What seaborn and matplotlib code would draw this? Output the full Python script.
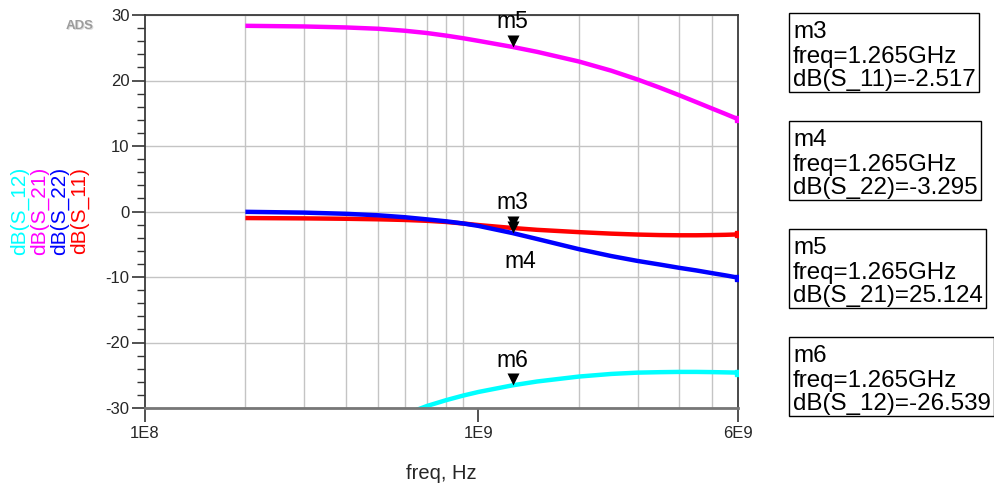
import matplotlib
matplotlib.use("Agg")
import matplotlib.pyplot as plt
import pandas as pd
import seaborn as sns
from matplotlib.patches import Rectangle
from matplotlib.ticker import FixedLocator, FixedFormatter, MultipleLocator, NullFormatter

# ---- S-parameter sweep data (frequency in Hz, magnitudes in dB) ----
freq_hz = [2e8, 3e8, 4e8, 5e8, 6e8, 7e8, 8e8, 9e8, 1e9, 1.265e9, 1.5e9,
           2e9, 2.5e9, 3e9, 3.5e9, 4e9, 4.5e9, 5e9, 5.5e9, 6e9]
s11_db = [-1.0, -1.05, -1.11, -1.19, -1.29, -1.42, -1.6, -1.83, -2.07, -2.517,
          -2.8, -3.15, -3.38, -3.52, -3.6, -3.63, -3.63, -3.6, -3.56, -3.5]
s22_db = [-0.05, -0.17, -0.35, -0.58, -0.87, -1.2, -1.5, -1.83, -2.2, -3.295,
          -4.2, -5.75, -6.8, -7.55, -8.1, -8.6, -9.0, -9.4, -9.75, -10.1]
s21_db = [28.35, 28.25, 28.1, 27.9, 27.6, 27.25, 26.85, 26.45, 26.05, 25.124,
          24.37, 22.9, 21.5, 20.15, 18.9, 17.75, 16.7, 15.75, 14.9, 14.1]
freq_s12_hz = [6e8, 7e8, 8e8, 9e8, 1e9, 1.265e9, 1.5e9, 2e9, 2.5e9, 3e9,
               3.5e9, 4e9, 4.5e9, 5e9, 5.5e9, 6e9]
s12_db = [-31.0, -29.7, -28.8, -28.1, -27.55, -26.539, -25.95, -25.2, -24.8,
          -24.6, -24.53, -24.49, -24.49, -24.52, -24.56, -24.6]

trace_names = ["dB(S_11)", "dB(S_22)", "dB(S_21)", "dB(S_12)"]
trace_colors = ["#ff0000", "#0000ff", "#ff00ff", "#00ffff"]

# markers: name, trace, frequency
marker_names = ["m3", "m4", "m5", "m6"]
marker_traces = ["dB(S_11)", "dB(S_22)", "dB(S_21)", "dB(S_12)"]
marker_freq_hz = 1.265e9

x_tick_values = [1e8, 1e9, 6e9]
x_tick_labels = ["1E8", "1E9", "6E9"]
x_grid_values = [2e8, 3e8, 4e8, 5e8, 6e8, 7e8, 8e8, 9e8, 1e9, 2e9, 3e9, 4e9, 5e9]
y_tick_values = [-30, -20, -10, 0, 10, 20, 30]

# ---- styling ----
sns.set_style("white")
plt.rcParams["font.family"] = ["Liberation Sans", "DejaVu Sans"]
plt.rcParams["axes.unicode_minus"] = False

W, H = 995, 483
fig = plt.figure(figsize=(W / 100, H / 100), dpi=100)


def fx(px):
    return px / W


def fy(py):
    return 1 - py / H


ax = fig.add_axes([fx(145), fy(408), fx(738 - 145), (408 - 15) / H])

series = {
    "dB(S_11)": (freq_hz, s11_db),
    "dB(S_22)": (freq_hz, s22_db),
    "dB(S_21)": (freq_hz, s21_db),
    "dB(S_12)": (freq_s12_hz, s12_db),
}
frames = [pd.DataFrame({"freq": f, "dB": v, "trace": name})
          for name, (f, v) in series.items()]
df = pd.concat(frames, ignore_index=True)
palette = dict(zip(trace_names, trace_colors))

ax.set_xscale("log")
sns.lineplot(data=df, x="freq", y="dB", hue="trace", hue_order=trace_names,
             palette=palette, linewidth=3.2, legend=False, ax=ax,
             solid_capstyle="butt", solid_joinstyle="round")

# small end squares at the last sweep point
for name in trace_names:
    f, v = series[name]
    ax.plot([f[-1]], [v[-1]], marker="s", ms=4.5, color=palette[name],
            ls="none", zorder=3)

ax.set_xlim(1e8, 6e9)
ax.set_ylim(-30, 30)

# ticks
ax.xaxis.set_major_locator(FixedLocator(x_tick_values))
ax.xaxis.set_major_formatter(FixedFormatter(x_tick_labels))
ax.xaxis.set_minor_locator(FixedLocator(x_grid_values))
ax.xaxis.set_minor_formatter(NullFormatter())
ax.yaxis.set_major_locator(FixedLocator(y_tick_values))
ax.yaxis.set_minor_locator(MultipleLocator(2))

tick_col = "#333333"
ax.tick_params(axis="x", which="major", direction="out", length=10, width=1.2,
               color=tick_col, pad=3.2, labelsize=12, bottom=True)
ax.tick_params(axis="x", which="minor", length=0)
ax.tick_params(axis="y", which="major", direction="out", length=9.5, width=1.2,
               color=tick_col, pad=1.6, labelsize=12, left=True)
ax.tick_params(axis="y", which="minor", direction="out", length=5.8, width=1.0,
               color=tick_col, left=True)

# grid
grid_col = "#c4c4c4"
ax.grid(True, axis="x", which="minor", color=grid_col, lw=1.0)
ax.grid(True, axis="y", which="major", color=grid_col, lw=1.0)
ax.grid(False, axis="x", which="major")

for side in ["left", "right", "top"]:
    ax.spines[side].set_color("#3a3a3a")
    ax.spines[side].set_linewidth(1.3)
ax.spines["bottom"].set_color("#777777")
ax.spines["bottom"].set_linewidth(2.0)

ax.set_ylabel("")
ax.set_xlabel("freq, Hz", fontsize=14.5)
ax.xaxis.set_label_coords(0.5, -0.143)

# stacked, colour-coded y-axis titles
for i, (name, col) in enumerate(zip(reversed(trace_names), reversed(trace_colors))):
    fig.text(fx(20 + 20 * i), fy(210.5), name, rotation=90, color=col,
             fontsize=15, ha="center", va="center")

# program badge
fig.text(fx(81), fy(27), "ADS", color="#dddddd", fontsize=9.5,
         fontweight="bold", ha="center", va="center")
fig.text(fx(80), fy(26), "ADS", color="#9c9c9c", fontsize=9.5,
         fontweight="bold", ha="center", va="center")

# ---- markers on the traces ----
tri = [(0, 0), (-1, 2), (1, 2), (0, 0)]
label_offsets = {"m3": (0, 25), "m4": (8, -28), "m5": (0, 25), "m6": (0, 25)}
marker_values = {}
for mname, tname in zip(marker_names, marker_traces):
    f, v = series[tname]
    val = v[f.index(marker_freq_hz)]
    marker_values[mname] = (tname, val)
    ax.plot([marker_freq_hz], [val], marker=tri, ms=17.3, mew=0,
            color="black", ls="none", zorder=6)
    dx, dy = label_offsets[mname]
    ax.annotate(mname, (marker_freq_hz, val), xytext=(dx, dy),
                textcoords="offset pixels", ha="center", va="center",
                fontsize=16.5, color="black", zorder=7)

# ---- marker readout boxes ----
box_tops = [13, 121, 229, 337]
box_h = 79
fig.canvas.draw()
renderer = fig.canvas.get_renderer()
for mname, top in zip(marker_names, box_tops):
    tname, val = marker_values[mname]
    lines = [mname,
             f"freq={marker_freq_hz / 1e9:.3f}GHz",
             f"{tname}={val:.3f}"]
    offs = [25, 50, 73]
    texts = []
    for line, off in zip(lines, offs):
        t = fig.text(fx(793), fy(top + off), line, fontsize=17.4,
                     ha="left", va="baseline", color="black")
        texts.append(t)
    right = max(t.get_window_extent(renderer).x1 for t in texts) + 3
    rect = Rectangle((fx(789), fy(top + box_h)), right / W - fx(789), box_h / H,
                     transform=fig.transFigure, fill=False, ec="black", lw=1.0)
    fig.add_artist(rect)

fig.savefig("out.png", dpi=100)
